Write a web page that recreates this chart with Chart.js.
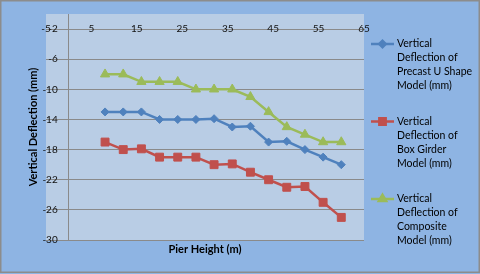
<!DOCTYPE html>
<html>
<head>
<meta charset="utf-8">
<script src="https://cdn.jsdelivr.net/npm/chart.js@4.4.1/dist/chart.umd.min.js"></script>
<style>
  html, body { margin: 0; padding: 0; background: #8EB4E3; }
  canvas { display: block; }
</style>
</head>
<body>
<canvas id="c" width="480" height="274"></canvas>
<script>
// ---- data ----
const pierHeights = [8, 12, 16, 20, 24, 28, 32, 36, 40, 44, 48, 52, 56, 60];
const precastU   = [-13, -13, -13, -14, -14, -14, -13.9, -15, -14.9, -17, -16.9, -18, -19, -20];
const boxGirder  = [-17, -18, -17.9, -19, -19, -19, -20, -19.9, -21, -22, -23, -22.9, -25, -27];
const composite  = [-8, -8, -9, -9, -9, -10, -10, -10, -11, -13, -15, -16, -17, -17];
const seriesNames = [
  "Vertical\nDeflection of\nPrecast U Shape\nModel (mm)",
  "Vertical\nDeflection of\nBox Girder\nModel (mm)",
  "Vertical\nDeflection of\nComposite\nModel (mm)"
];
const xTickValues = [-5, 5, 15, 25, 35, 45, 55, 65];
const yTickValues = [-30, -26, -22, -18, -14, -10, -6, -2];
const xTitle = "Pier Height (m)";
const yTitle = "Vertical Deflection (mm)";

const toPts = vals => pierHeights.map((x, i) => ({ x: x, y: vals[i] }));

const FONT = "Lato, 'Open Sans', sans-serif";
const GRID = '#8A8A8A';

const bgPlugin = {
  id: 'bg',
  beforeDraw(chart) {
    const { ctx, chartArea: a, width, height } = chart;
    ctx.save();
    ctx.fillStyle = '#8EB4E3';
    ctx.fillRect(0, 0, width, height);
    ctx.fillStyle = '#B9CDE5';
    ctx.fillRect(a.left, a.top, a.right - a.left, a.bottom - a.top);
    ctx.strokeStyle = '#8C8C8C';
    ctx.lineWidth = 1.5;
    ctx.strokeRect(0.75, 0.75, width - 1.5, height - 2.5);
    ctx.restore();
  }
};

const titlesLegendPlugin = {
  id: 'titlesLegend',
  afterDraw(chart) {
    const { ctx, chartArea: a } = chart;
    ctx.save();
    ctx.fillStyle = '#000';
    ctx.font = "bold 11px " + FONT;
    ctx.textAlign = 'center';
    ctx.textBaseline = 'middle';
    ctx.fillText(xTitle, (a.left + a.right) / 2, 249);
    ctx.save();
    ctx.translate(33, (a.top + a.bottom) / 2);
    ctx.rotate(-Math.PI / 2);
    ctx.fillText(yTitle, 0, 0);
    ctx.restore();

    // legend
    ctx.font = "10.5px " + FONT;
    ctx.textAlign = 'left';
    chart.data.datasets.forEach((ds, i) => {
      const y0 = 44 + i * 77.5;
      ctx.strokeStyle = ds.borderColor;
      ctx.lineWidth = 2.5;
      ctx.beginPath();
      ctx.moveTo(371, y0);
      ctx.lineTo(394, y0);
      ctx.stroke();
      ctx.fillStyle = ds.backgroundColor;
      ctx.strokeStyle = ds.borderColor;
      Chart.helpers.drawPoint(ctx, {
        pointStyle: ds.pointStyle, radius: ds.pointRadius * 0.8, borderWidth: 1, rotation: 0
      }, 382.5, y0);
      ctx.fillStyle = '#000';
      ds.label.split('\n').forEach((line, k) => {
        ctx.fillText(line, 397, y0 + k * 14);
      });
    });
    ctx.restore();
  }
};

const mk = (label, vals, color, style, r) => ({
  label: label,
  data: toPts(vals),
  borderColor: color,
  backgroundColor: color,
  borderWidth: 2.5,
  pointStyle: style,
  pointRadius: r,
  pointBorderWidth: 1,
  pointBackgroundColor: color,
  pointBorderColor: color,
  tension: 0,
  fill: false
});

// shift y-axis labels left of the axis line (positioned axes ignore padding)
function shiftLabels(scale) {
  if (scale._shiftPatched) return;
  scale._shiftPatched = true;
  const orig = scale.drawLabels;
  scale.drawLabels = function (area) {
    const ctx = this.ctx;
    ctx.save();
    ctx.translate(-11, 0);
    orig.call(this, area);
    ctx.restore();
  };
}

new Chart(document.getElementById('c'), {
  type: 'line',
  data: {
    datasets: [
      mk(seriesNames[0], precastU, '#4F81BD', 'rectRot', 4),
      mk(seriesNames[1], boxGirder, '#C0504D', 'rect', 5.6),
      mk(seriesNames[2], composite, '#9BBB59', 'triangle', 5.3)
    ]
  },
  options: {
    responsive: false,
    animation: false,
    devicePixelRatio: 1,
    layout: { padding: { left: 46, top: 14, right: 116, bottom: 34 } },
    plugins: { legend: { display: false }, tooltip: { enabled: false }, title: { display: false } },
    scales: {
      x: {
        type: 'linear',
        position: { y: -2 },
        min: -5, max: 65,
        afterBuildTicks: s => { s.ticks = xTickValues.map(v => ({ value: v })); },
        grid: { display: false, drawTicks: false },
        border: { display: true, color: GRID, width: 1 },
        ticks: { autoSkip: false, maxRotation: 0, padding: -6, color: '#111', font: { family: FONT, size: 10 } }
      },
      y: {
        type: 'linear',
        position: { x: 0 },
        min: -30, max: 0,
        afterBuildTicks: s => { s.ticks = yTickValues.map(v => ({ value: v })); },
        afterUpdate: shiftLabels,
        grid: { display: true, drawTicks: false, color: GRID, lineWidth: 1 },
        border: { display: true, color: GRID, width: 1 },
        ticks: { autoSkip: false, padding: 0, color: '#111', font: { family: FONT, size: 10 } }
      }
    }
  },
  plugins: [bgPlugin, titlesLegendPlugin]
});
</script>
</body>
</html>
